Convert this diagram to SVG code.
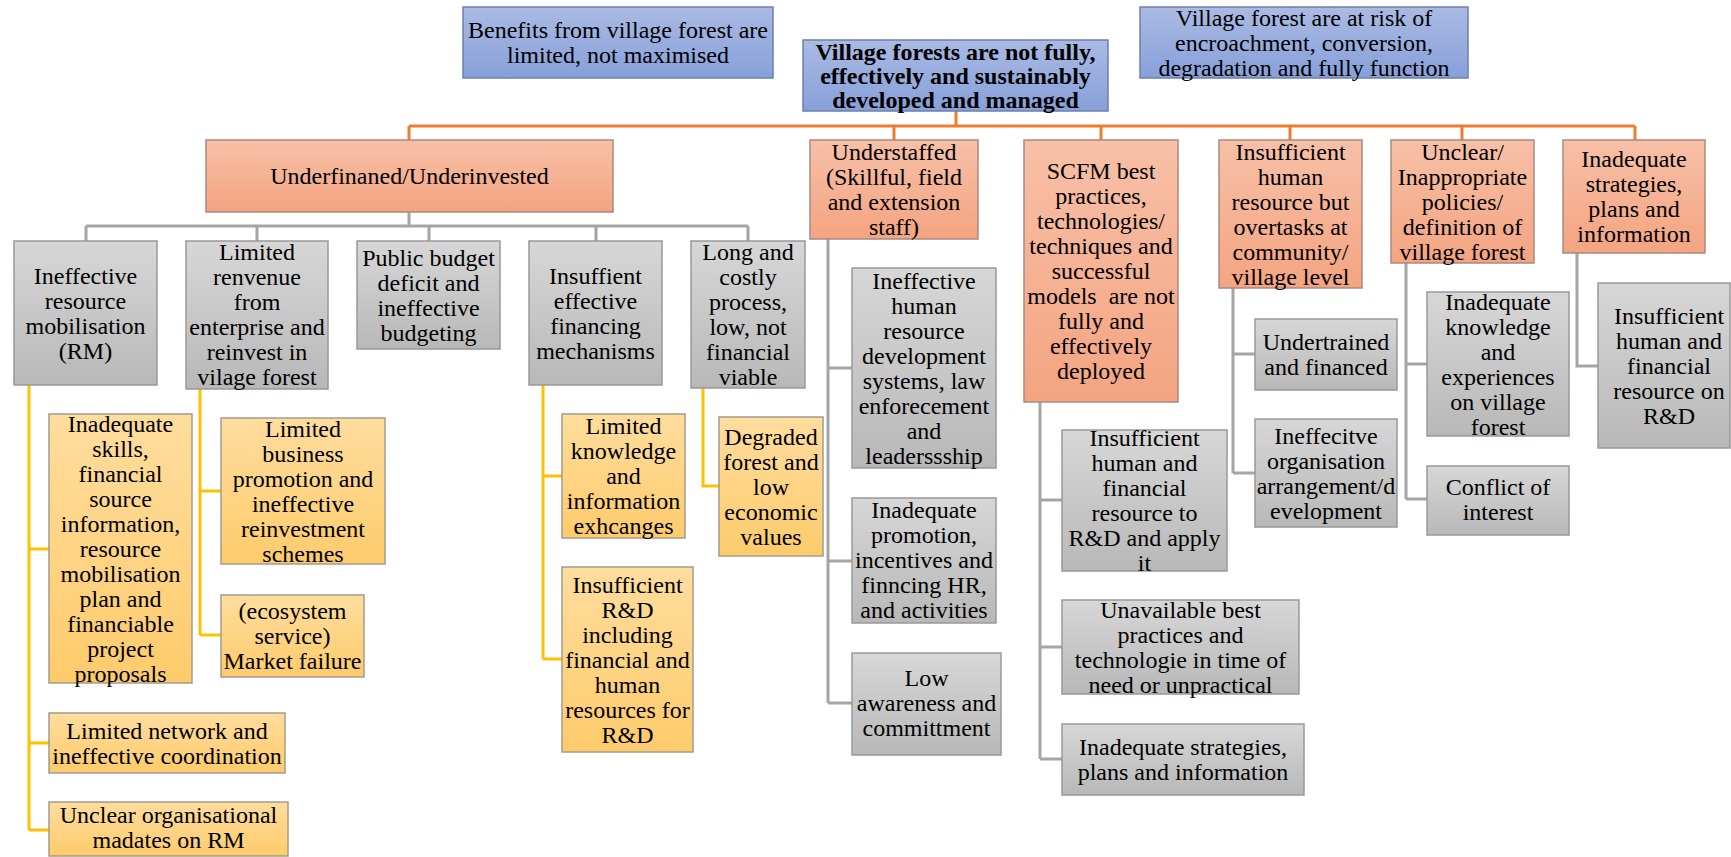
<svg xmlns="http://www.w3.org/2000/svg" width="1731" height="857" viewBox="0 0 1731 857">
<defs>
<linearGradient id="gBlue" x1="0" y1="0" x2="0" y2="1"><stop offset="0" stop-color="#AABAE3"/><stop offset="1" stop-color="#87A0DA"/></linearGradient>
<linearGradient id="gOrange" x1="0" y1="0" x2="0" y2="1"><stop offset="0" stop-color="#F7C0A7"/><stop offset="1" stop-color="#F4A481"/></linearGradient>
<linearGradient id="gGray" x1="0" y1="0" x2="0" y2="1"><stop offset="0" stop-color="#D7D7D7"/><stop offset="1" stop-color="#B8B8B8"/></linearGradient>
<linearGradient id="gYellow" x1="0" y1="0" x2="0" y2="1"><stop offset="0" stop-color="#FFDD9E"/><stop offset="1" stop-color="#FDCB6B"/></linearGradient>
</defs>
<style>
.blue{fill:url(#gBlue);stroke:#6F7FA6;stroke-width:1.5}
.orange{fill:url(#gOrange);stroke:#A98A80;stroke-width:1.5}
.gray{fill:url(#gGray);stroke:#999999;stroke-width:1.5}
.yellow{fill:url(#gYellow);stroke:#A39C8C;stroke-width:1.5}
text{font-family:"Liberation Serif","Times New Roman",serif;font-size:24px;fill:#000;text-anchor:middle}
.b{font-weight:bold}
.co{fill:none;stroke:#ED7D31;stroke-width:3}
.cg{fill:none;stroke:#A5A5A5;stroke-width:3}
.cy{fill:none;stroke:#FFC000;stroke-width:3}
</style>
<rect width="1731" height="857" fill="#FFFFFF"/>
<g id="connectors">
<path class="co" d="M956 111V126M409 126H1635M409 126V140M894 126V140M1101 126V140M1290 126V140M1462 126V140M1635 126V140"/>
<path class="cg" d="M409 212V226M86 226H748M86 226V241M257 226V241M429 226V241M596 226V241M748 226V241"/>
<path class="cy" d="M29 385V830M29 549H49M29 743H49M29 830H49"/>
<path class="cy" d="M200 389V635M200 491H221M200 635H221"/>
<path class="cy" d="M543 385V659M543 476H562M543 659H562"/>
<path class="cy" d="M703 388V486H719"/>
<path class="cg" d="M828 239V703M828 368H852M828 561H852M828 703H852"/>
<path class="cg" d="M1040 402V759M1040 500H1062M1040 647H1062M1040 759H1062"/>
<path class="cg" d="M1233 288V473M1233 354H1255M1233 473H1255"/>
<path class="cg" d="M1406 263V499M1406 364H1427M1406 499H1427"/>
<path class="cg" d="M1577 253V366H1598"/>
</g>
<g id="benefits"><rect class="blue" x="463" y="7" width="310" height="71"/><text><tspan x="618" y="38">Benefits from village forest are</tspan><tspan x="618" y="63">limited, not maximised</tspan></text></g>
<g id="main"><rect class="blue" x="803" y="40" width="305" height="71"/><text class="b"><tspan x="955.5" y="59.5">Village forests are not fully,</tspan><tspan x="955.5" y="83.5">effectively and sustainably</tspan><tspan x="955.5" y="107.5">developed and managed</tspan></text></g>
<g id="risk"><rect class="blue" x="1140" y="7" width="328" height="71"/><text><tspan x="1304" y="25.5">Village forest are at risk of</tspan><tspan x="1304" y="50.5">encroachment, conversion,</tspan><tspan x="1304" y="75.5">degradation and fully function</tspan></text></g>
<g id="underfinanced"><rect class="orange" x="206" y="140" width="407" height="72"/><text><tspan x="409.5" y="184">Underfinaned/Underinvested</tspan></text></g>
<g id="understaffed"><rect class="orange" x="810" y="140" width="168" height="99"/><text><tspan x="894" y="159.5">Understaffed</tspan><tspan x="894" y="184.5">(Skillful, field</tspan><tspan x="894" y="209.5">and extension</tspan><tspan x="894" y="234.5">staff)</tspan></text></g>
<g id="scfm"><rect class="orange" x="1024" y="140" width="154" height="262"/><text><tspan x="1101" y="179">SCFM best</tspan><tspan x="1101" y="204">practices,</tspan><tspan x="1101" y="229">technologies/</tspan><tspan x="1101" y="254">techniques and</tspan><tspan x="1101" y="279">successful</tspan><tspan x="1101" y="304">models &#160;are not</tspan><tspan x="1101" y="329">fully and</tspan><tspan x="1101" y="354">effectively</tspan><tspan x="1101" y="379">deployed</tspan></text></g>
<g id="hr"><rect class="orange" x="1219" y="140" width="143" height="148"/><text><tspan x="1290.5" y="159.5">Insufficient</tspan><tspan x="1290.5" y="184.5">human</tspan><tspan x="1290.5" y="209.5">resource but</tspan><tspan x="1290.5" y="234.5">overtasks at</tspan><tspan x="1290.5" y="259.5">community/</tspan><tspan x="1290.5" y="284.5">village level</tspan></text></g>
<g id="unclear"><rect class="orange" x="1391" y="140" width="143" height="123"/><text><tspan x="1462.5" y="159.5">Unclear/</tspan><tspan x="1462.5" y="184.5">Inappropriate</tspan><tspan x="1462.5" y="209.5">policies/</tspan><tspan x="1462.5" y="234.5">definition of</tspan><tspan x="1462.5" y="259.5">village forest</tspan></text></g>
<g id="strategies"><rect class="orange" x="1563" y="140" width="142" height="113"/><text><tspan x="1634" y="167">Inadequate</tspan><tspan x="1634" y="192">strategies,</tspan><tspan x="1634" y="217">plans and</tspan><tspan x="1634" y="242">information</tspan></text></g>
<g id="rm"><rect class="gray" x="14" y="241" width="143" height="144"/><text><tspan x="85.5" y="283.5">Ineffective</tspan><tspan x="85.5" y="308.5">resource</tspan><tspan x="85.5" y="333.5">mobilisation</tspan><tspan x="85.5" y="358.5">(RM)</tspan></text></g>
<g id="revenue"><rect class="gray" x="186" y="241" width="142" height="148"/><text><tspan x="257" y="260">Limited</tspan><tspan x="257" y="285">renvenue</tspan><tspan x="257" y="310">from</tspan><tspan x="257" y="335">enterprise and</tspan><tspan x="257" y="360">reinvest in</tspan><tspan x="257" y="385">vilage forest</tspan></text></g>
<g id="budget"><rect class="gray" x="357" y="241" width="143" height="108"/><text><tspan x="428.5" y="265.5">Public budget</tspan><tspan x="428.5" y="290.5">deficit and</tspan><tspan x="428.5" y="315.5">ineffective</tspan><tspan x="428.5" y="340.5">budgeting</tspan></text></g>
<g id="mechanisms"><rect class="gray" x="529" y="241" width="133" height="144"/><text><tspan x="595.5" y="283.5">Insuffient</tspan><tspan x="595.5" y="308.5">effective</tspan><tspan x="595.5" y="333.5">financing</tspan><tspan x="595.5" y="358.5">mechanisms</tspan></text></g>
<g id="costly"><rect class="gray" x="691" y="241" width="114" height="147"/><text><tspan x="748" y="260">Long and</tspan><tspan x="748" y="285">costly</tspan><tspan x="748" y="310">process,</tspan><tspan x="748" y="335">low, not</tspan><tspan x="748" y="360">financial</tspan><tspan x="748" y="385">viable</tspan></text></g>
<g id="skills"><rect class="yellow" x="49" y="414" width="143" height="269"/><text><tspan x="120.5" y="431.5">Inadequate</tspan><tspan x="120.5" y="456.5">skills,</tspan><tspan x="120.5" y="481.5">financial</tspan><tspan x="120.5" y="506.5">source</tspan><tspan x="120.5" y="531.5">information,</tspan><tspan x="120.5" y="556.5">resource</tspan><tspan x="120.5" y="581.5">mobilisation</tspan><tspan x="120.5" y="606.5">plan and</tspan><tspan x="120.5" y="631.5">financiable</tspan><tspan x="120.5" y="656.5">project</tspan><tspan x="120.5" y="681.5">proposals</tspan></text></g>
<g id="business"><rect class="yellow" x="221" y="418" width="164" height="146"/><text><tspan x="303" y="436.5">Limited</tspan><tspan x="303" y="461.5">business</tspan><tspan x="303" y="486.5">promotion and</tspan><tspan x="303" y="511.5">ineffective</tspan><tspan x="303" y="536.5">reinvestment</tspan><tspan x="303" y="561.5">schemes</tspan></text></g>
<g id="ecosystem"><rect class="yellow" x="221" y="595" width="143" height="82"/><text><tspan x="292.5" y="619">(ecosystem</tspan><tspan x="292.5" y="644">service)</tspan><tspan x="292.5" y="669">Market failure</tspan></text></g>
<g id="network"><rect class="yellow" x="49" y="713" width="236" height="60"/><text><tspan x="167" y="738.5">Limited network and</tspan><tspan x="167" y="763.5">ineffective coordination</tspan></text></g>
<g id="mandates"><rect class="yellow" x="49" y="802" width="239" height="54"/><text><tspan x="168.5" y="823">Unclear organisational</tspan><tspan x="168.5" y="848">madates on RM</tspan></text></g>
<g id="knowledge"><rect class="yellow" x="562" y="414" width="123" height="124"/><text><tspan x="623.5" y="434">Limited</tspan><tspan x="623.5" y="459">knowledge</tspan><tspan x="623.5" y="484">and</tspan><tspan x="623.5" y="509">information</tspan><tspan x="623.5" y="534">exhcanges</tspan></text></g>
<g id="rd"><rect class="yellow" x="562" y="567" width="131" height="185"/><text><tspan x="627.5" y="592.5">Insufficient</tspan><tspan x="627.5" y="617.5">R&amp;D</tspan><tspan x="627.5" y="642.5">including</tspan><tspan x="627.5" y="667.5">financial and</tspan><tspan x="627.5" y="692.5">human</tspan><tspan x="627.5" y="717.5">resources for</tspan><tspan x="627.5" y="742.5">R&amp;D</tspan></text></g>
<g id="degraded"><rect class="yellow" x="719" y="417" width="104" height="139"/><text><tspan x="771" y="444.5">Degraded</tspan><tspan x="771" y="469.5">forest and</tspan><tspan x="771" y="494.5">low</tspan><tspan x="771" y="519.5">economic</tspan><tspan x="771" y="544.5">values</tspan></text></g>
<g id="hrdev"><rect class="gray" x="852" y="268" width="144" height="200"/><text><tspan x="924" y="288.5">Ineffective</tspan><tspan x="924" y="313.5">human</tspan><tspan x="924" y="338.5">resource</tspan><tspan x="924" y="363.5">development</tspan><tspan x="924" y="388.5">systems, law</tspan><tspan x="924" y="413.5">enforecement</tspan><tspan x="924" y="438.5">and</tspan><tspan x="924" y="463.5">leaderssship</tspan></text></g>
<g id="promotion"><rect class="gray" x="852" y="498" width="144" height="125"/><text><tspan x="924" y="518">Inadequate</tspan><tspan x="924" y="543">promotion,</tspan><tspan x="924" y="568">incentives and</tspan><tspan x="924" y="593">finncing HR,</tspan><tspan x="924" y="618">and activities</tspan></text></g>
<g id="awareness"><rect class="gray" x="852" y="653" width="149" height="102"/><text><tspan x="926.5" y="686">Low</tspan><tspan x="926.5" y="711">awareness and</tspan><tspan x="926.5" y="736">committment</tspan></text></g>
<g id="rdapply"><rect class="gray" x="1062" y="430" width="165" height="141"/><text><tspan x="1144.5" y="446">Insufficient</tspan><tspan x="1144.5" y="471">human and</tspan><tspan x="1144.5" y="496">financial</tspan><tspan x="1144.5" y="521">resource to</tspan><tspan x="1144.5" y="546">R&amp;D and apply</tspan><tspan x="1144.5" y="571">it</tspan></text></g>
<g id="unavailable"><rect class="gray" x="1062" y="600" width="237" height="94"/><text><tspan x="1180.5" y="617.5">Unavailable best</tspan><tspan x="1180.5" y="642.5">practices and</tspan><tspan x="1180.5" y="667.5">technologie in time of</tspan><tspan x="1180.5" y="692.5">need or unpractical</tspan></text></g>
<g id="strategies2"><rect class="gray" x="1062" y="724" width="242" height="71"/><text><tspan x="1183" y="755">Inadequate strategies,</tspan><tspan x="1183" y="780">plans and information</tspan></text></g>
<g id="undertrained"><rect class="gray" x="1255" y="319" width="142" height="71"/><text><tspan x="1326" y="350">Undertrained</tspan><tspan x="1326" y="375">and financed</tspan></text></g>
<g id="organisation"><rect class="gray" x="1255" y="419" width="142" height="108"/><text><tspan x="1326" y="443.5">Ineffecitve</tspan><tspan x="1326" y="468.5">organisation</tspan><tspan x="1326" y="493.5">arrangement/d</tspan><tspan x="1326" y="518.5">evelopment</tspan></text></g>
<g id="experiences"><rect class="gray" x="1427" y="292" width="142" height="144"/><text><tspan x="1498" y="309.5">Inadequate</tspan><tspan x="1498" y="334.5">knowledge</tspan><tspan x="1498" y="359.5">and</tspan><tspan x="1498" y="384.5">experiences</tspan><tspan x="1498" y="409.5">on village</tspan><tspan x="1498" y="434.5">forest</tspan></text></g>
<g id="conflict"><rect class="gray" x="1427" y="466" width="142" height="69"/><text><tspan x="1498" y="495">Conflict of</tspan><tspan x="1498" y="520">interest</tspan></text></g>
<g id="rdresource"><rect class="gray" x="1598" y="283" width="132" height="165"/><text><tspan x="1669" y="323.5">Insufficient</tspan><tspan x="1669" y="348.5">human and</tspan><tspan x="1669" y="373.5">financial</tspan><tspan x="1669" y="398.5">resource on</tspan><tspan x="1669" y="423.5">R&amp;D</tspan></text></g>
</svg>
